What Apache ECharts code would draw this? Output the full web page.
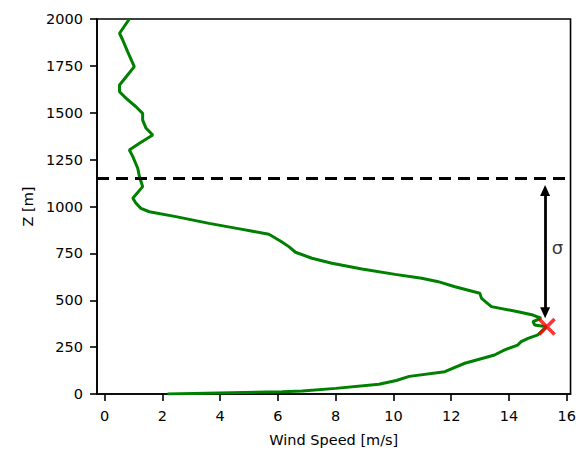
<!DOCTYPE html>
<html>
<head>
<meta charset="utf-8">
<script src="https://cdn.jsdelivr.net/npm/echarts@6/dist/echarts.min.js"></script>
<style>
html,body{margin:0;padding:0;background:#fff}
#chart1{width:579px;height:452px}
</style>
</head>
<body>
<div id="chart1"></div>
<script>
// 风速廓线, 由下往上
var height=[0,7,12,16,30,52,72,94,119,164,208,235,261,279,297,315,359,368,386,404,421,439,466,510,537,572,599,617,638,667,697,724,756,786,815,852,878,910,946,972,990,1017,1044,1106,1159,1204,1266,1301,1337,1381,1417,1461,1497,1532,1577,1612,1648,1692,1746,1826,1888,1924,2000];
var windSpeed=[2.18,4.4,6.15,6.85,8.0,9.5,10.1,10.55,11.78,12.47,13.5,13.85,14.3,14.42,14.66,15.0,15.3,14.89,14.83,15.11,14.83,14.31,13.39,13.05,12.99,12.13,11.55,10.98,10.06,8.91,7.87,7.18,6.61,6.38,6.1,5.69,4.77,3.62,2.47,1.55,1.26,1.09,0.98,1.32,1.21,1.15,0.98,0.86,1.21,1.67,1.44,1.32,1.32,1.09,0.75,0.52,0.52,0.75,1.03,0.80,0.63,0.52,0.86];
var xTicks=[0,2,4,6,8,10,12,14,16];
var peak=[15.31,359];          // 红叉
var sigmaLevel=1152;           // 虚线
var arrowFrom=[15.25,1086];
var arrowTo=[15.25,433];
var sigmaPos=[15.68,784];

var profile=height.map(function (h,i) {return [windSpeed[i],h]});

var font="DejaVu Sans";
var chart=echarts.init(document.getElementById("chart1"),null,{renderer:"svg"});
var option={
    animation:false,
    textStyle:{fontFamily:font},
    grid:{left:97,right:5,top:19,bottom:58,show:true,borderColor:"#000",borderWidth:1.6},
    xAxis:{
        type:"value",min:-0.26,max:16.13,
        name:"Wind Speed [m/s]",nameLocation:"middle",nameGap:38,
        nameTextStyle:{fontSize:14.5,color:"#000",fontFamily:font},
        axisLine:{show:true,onZero:false,lineStyle:{color:"#000",width:1.6}},
        axisTick:{show:true,length:7,lineStyle:{color:"#000",width:1.6},customValues:xTicks},
        axisLabel:{color:"#000",fontSize:14.5,margin:14,fontFamily:font,customValues:xTicks},
        splitLine:{show:false}
    },
    yAxis:{
        type:"value",min:0,max:2000,interval:250,
        name:"Z [m]",nameLocation:"middle",nameGap:62,
        nameTextStyle:{fontSize:14.5,color:"#000",fontFamily:font},
        axisLine:{show:true,onZero:false,lineStyle:{color:"#000",width:1.6}},
        axisTick:{show:true,length:7,lineStyle:{color:"#000",width:1.6}},
        axisLabel:{color:"#000",fontSize:14.5,margin:14,fontFamily:font,
            formatter:function (v) {return String(v)}},
        splitLine:{show:false}
    },
    series:[
        {name:"profile",type:"line",data:profile,symbol:"none",z:3,
            lineStyle:{color:"#008000",width:3,cap:"butt"},
            markLine:{silent:true,symbol:"none",label:{show:false},animation:false,
                lineStyle:{color:"#000",width:2.8,type:[12,7]},
                data:[{yAxis:sigmaLevel}]}
        },
        {name:"arrow",type:"line",data:[],
            markLine:{silent:true,symbol:["triangle","triangle"],symbolSize:[10,11],label:{show:false},animation:false,
                lineStyle:{color:"#000",width:2.8,type:"solid"},
                data:[[{coord:arrowFrom},{coord:arrowTo}]]}
        },
        {name:"peak",type:"scatter",data:[peak],z:5,
            symbol:"path://M0,1.4L1.4,0L5,3.6L8.6,0L10,1.4L6.4,5L10,8.6L8.6,10L5,6.4L1.4,10L0,8.6L3.6,5Z",
            symbolSize:18,itemStyle:{color:"#ff0000"}
        },
        {name:"sigma",type:"scatter",data:[sigmaPos],symbolSize:1,itemStyle:{color:"transparent"},
            label:{show:true,formatter:"σ",position:"inside",fontSize:18,color:"#000",fontFamily:font}
        }
    ]
};
chart.setOption(option);
</script>
</body>
</html>
